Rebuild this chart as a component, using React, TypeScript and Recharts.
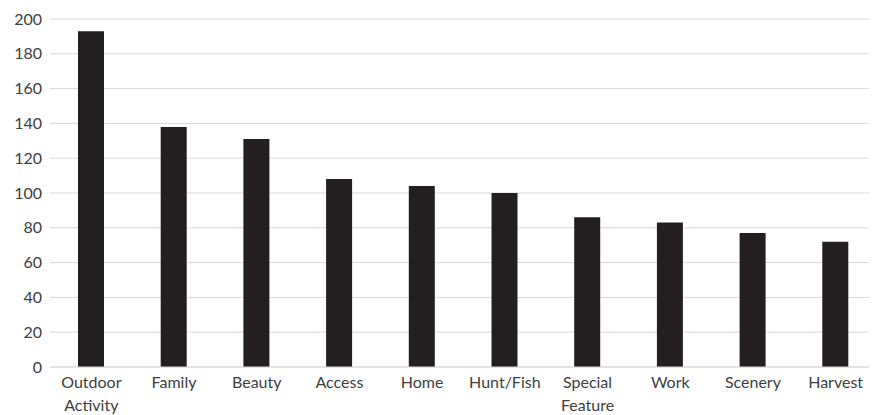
import { BarChart, Bar, XAxis, YAxis, CartesianGrid } from "recharts";

// values
const categories = ["Outdoor Activity", "Family", "Beauty", "Access", "Home", "Hunt/Fish", "Special Feature", "Work", "Scenery", "Harvest"];
const counts = [193, 138, 131, 108, 104, 100, 86, 83, 77, 72];
const yTicks = [0, 20, 40, 60, 80, 100, 120, 140, 160, 180, 200];

const data = categories.map((name, i) => ({ name, value: counts[i] }));

const FONT = "Lato, 'Open Sans', sans-serif";
const TEXT = "#404040";

const CategoryTick = ({ x, y, payload }: any) => {
  const lines = String(payload.value).split(" ");
  return (
    <text x={x} y={y} textAnchor="middle" fill={TEXT} fontFamily={FONT} fontSize={16}>
      {lines.map((l, i) => (
        <tspan key={i} x={x} dy={i === 0 ? "0.71em" : 22.7}>{l}</tspan>
      ))}
    </text>
  );
};

const App = () => {
  return (
    <div style={{ width: 869, height: 407, background: "#fff" }}>
      <BarChart width={869} height={407} data={data} margin={{ top: 11, right: 0, left: 0, bottom: 0 }}>
        <CartesianGrid vertical={false} stroke="#d9d9d9" />
        <XAxis
          dataKey="name"
          height={48}
          tickLine={false}
          axisLine={{ stroke: "#d9d9d9" }}
          tickMargin={4}
          interval={0}
          tick={<CategoryTick />}
        />
        <YAxis
          width={42}
          domain={[0, 200]}
          ticks={yTicks}
          tickLine={false}
          axisLine={false}
          tick={{ fill: TEXT, fontSize: 16, fontFamily: FONT }}
        />
        <Bar dataKey="value" fill="#231f20" barSize={26} isAnimationActive={false} />
      </BarChart>
    </div>
  );
};

export default App;
